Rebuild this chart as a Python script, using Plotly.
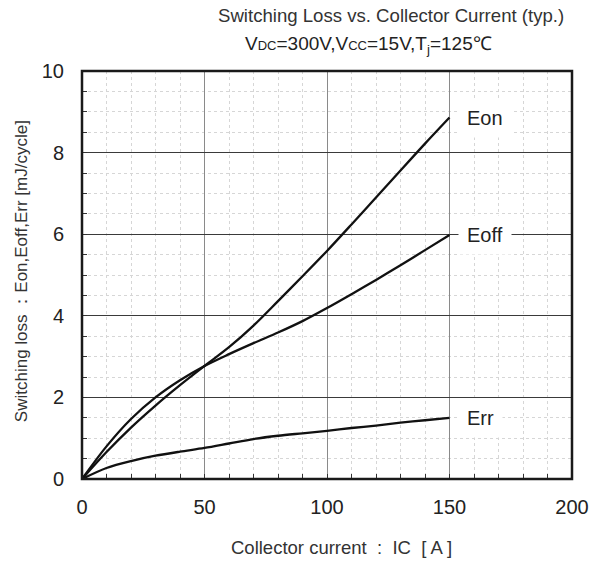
import plotly.graph_objects as go

# Collector current [A]
ic = [0, 10, 20, 30, 40, 50, 60, 70, 80, 90, 100, 110, 120, 130, 140, 150]

# Switching losses [mJ/cycle]
e_on = [0, 0.66, 1.26, 1.80, 2.30, 2.77, 3.23, 3.76, 4.36, 4.97, 5.59, 6.24, 6.90, 7.56, 8.22, 8.86]
e_off = [0, 0.80, 1.47, 2.00, 2.42, 2.77, 3.06, 3.33, 3.59, 3.87, 4.19, 4.53, 4.88, 5.24, 5.61, 5.98]
e_rr = [0, 0.27, 0.44, 0.57, 0.67, 0.76, 0.87, 0.98, 1.06, 1.12, 1.18, 1.25, 1.31, 1.38, 1.44, 1.50]

series = [("Eon", e_on), ("Eoff", e_off), ("Err", e_rr)]

x_ticks = [0, 50, 100, 150, 200]
y_ticks = [0, 2, 4, 6, 8, 10]

FONT = "Liberation Sans"

fig = go.Figure()
for name, vals in series:
    fig.add_trace(go.Scatter(
        x=ic, y=vals, mode="lines", name=name,
        line=dict(color="#111111", width=2.3, shape="spline", smoothing=0.9),
        showlegend=False, hoverinfo="skip",
    ))
    # curve label at the end of each line
    fig.add_annotation(
        x=ic[-1], y=vals[-1], xref="x", yref="y",
        text=name, showarrow=False, xanchor="left", yanchor="middle",
        xshift=8, bgcolor="white", borderpad=8,
        font=dict(family=FONT, size=20, color="#222222"),
    )

axis_common = dict(
    showline=False, zeroline=False, mirror=False,
    ticks="", tickfont=dict(family=FONT, size=20, color="#222222"),
)

fig.update_xaxes(
    range=[0, 200], tickvals=x_ticks, showgrid=True,
    gridcolor="#8a8a8a", gridwidth=1,
    ticklabelstandoff=14,
    minor=dict(dtick=10, showgrid=True, gridcolor="#d6d6d6", griddash="dot",
               gridwidth=1, ticks="inside", ticklen=5, tickcolor="#333333"),
    **axis_common,
)
fig.update_yaxes(
    range=[0, 10], tickvals=y_ticks, showgrid=True,
    gridcolor="#3a3a3a", gridwidth=1,
    ticklabelstandoff=17,
    minor=dict(dtick=0.5, showgrid=True, gridcolor="#d6d6d6", griddash="dot",
               gridwidth=1, ticks="inside", ticklen=5, tickcolor="#333333"),
    **axis_common,
)

# plot frame
fig.add_shape(type="rect", xref="paper", yref="paper", x0=0, y0=0, x1=1, y1=1,
              line=dict(color="#1a1a1a", width=2.5), layer="above")

# titles
fig.add_annotation(
    xref="paper", yref="paper", x=0.631, y=1.135, showarrow=False,
    text="Switching Loss vs. Collector Current (typ.)",
    font=dict(family=FONT, size=18.6, color="#333333"), xanchor="center", yanchor="middle",
)
fig.add_annotation(
    xref="paper", yref="paper", x=0.584, y=1.064, showarrow=False,
    text="V<span style='font-size:13px'>DC</span>=300V,V<span style='font-size:13px'>CC</span>=15V,T<sub>j</sub>=125℃",
    font=dict(family=FONT, size=19, color="#222222"), xanchor="center", yanchor="middle",
)
fig.add_annotation(
    xref="paper", yref="paper", x=0.53, y=-0.169, showarrow=False,
    text="Collector current  :  IC  [ A ]",
    font=dict(family=FONT, size=18.5, color="#333333"), xanchor="center", yanchor="middle",
)
fig.add_annotation(
    xref="paper", yref="paper", x=-0.122, y=0.51, showarrow=False, textangle=-90,
    text="Switching loss ：Eon,Eoff,Err [mJ/cycle]",
    font=dict(family=FONT, size=17, color="#333333"), xanchor="center", yanchor="middle",
)

fig.update_layout(
    width=601, height=563, autosize=False,
    margin=dict(l=82, r=26, t=71, b=84),
    paper_bgcolor="white", plot_bgcolor="white",
)

fig.write_html("out.html")
